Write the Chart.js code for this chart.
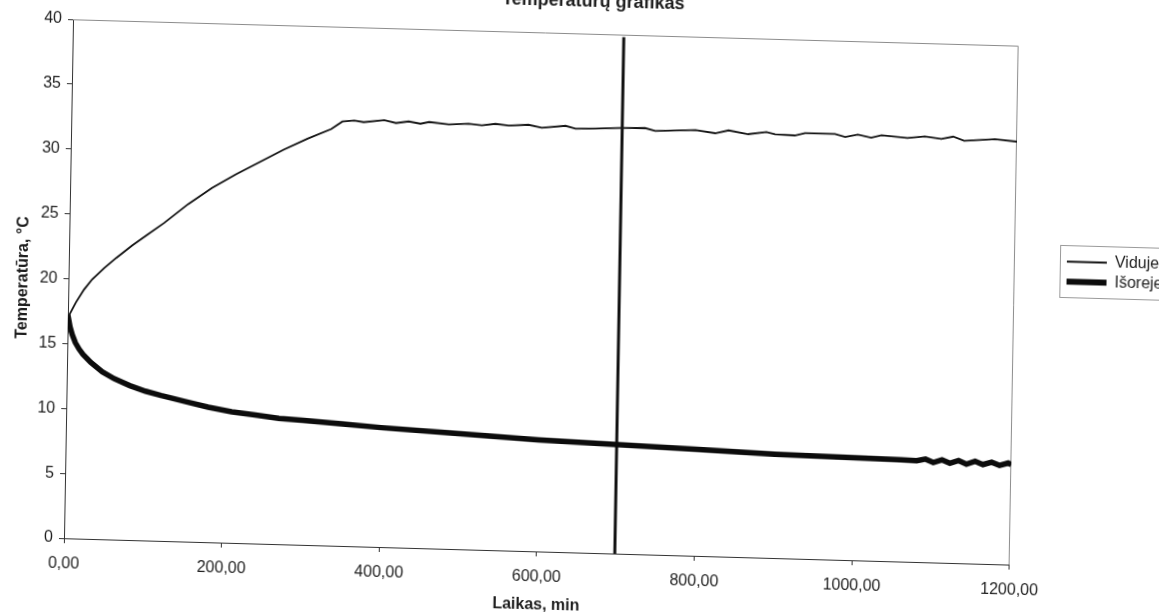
<!DOCTYPE html>
<html>
<head>
<meta charset="utf-8">
<title>Temperatūrų grafikas</title>
<script src="https://cdn.jsdelivr.net/npm/chart.js@4.4.1/dist/chart.umd.min.js"></script>
<style>
  html, body { margin: 0; padding: 0; background: #fff; overflow: hidden; }
  #page { position: relative; width: 1159px; height: 612px; overflow: hidden; }
  /* the scanned page is tilted: bottom edge falls to the right, left edge leans a little */
  #wrap { position: absolute; left: 0; top: -30px; transform: skewY(1.6deg) skewX(-1deg); transform-origin: 64px 568px; }
</style>
</head>
<body>
<div id="page">
  <div id="wrap"><canvas id="chart" width="1168" height="642"></canvas></div>
</div>
<script>
// Viduje (inside) temperature, time in minutes
const insideTime = [0, 5, 10, 20, 30, 45, 60, 80, 100, 120, 150, 180, 210, 240, 270, 300, 330,
  344, 359, 371, 397, 412, 428, 443, 454, 479, 504, 521, 538, 555, 580, 597, 627, 640, 665, 697,
  728, 741, 792, 817, 834, 859, 882, 893, 918, 931, 969, 982, 998, 1015, 1028, 1061, 1083, 1104,
  1119, 1133, 1172, 1200];
const insideTemp = [17.0, 17.6, 18.2, 19.2, 20.0, 20.9, 21.7, 22.7, 23.6, 24.5, 26.0, 27.3, 28.4,
  29.4, 30.4, 31.3, 32.1, 32.7, 32.8, 32.7, 32.9, 32.7, 32.85, 32.7, 32.85, 32.7, 32.8, 32.7, 32.85,
  32.75, 32.85, 32.65, 32.85, 32.65, 32.7, 32.8, 32.85, 32.65, 32.8, 32.6, 32.85, 32.6, 32.8, 32.65,
  32.6, 32.8, 32.8, 32.6, 32.8, 32.6, 32.8, 32.65, 32.8, 32.65, 32.85, 32.55, 32.75, 32.6];

// Išoreje (outside) temperature
const outsideTime = [0, 3, 6, 10, 15, 20, 30, 45, 60, 80, 100, 120, 150, 180, 210, 240, 270, 300,
  350, 400, 500, 600, 700, 800, 900, 1000, 1060, 1080, 1091, 1101, 1112, 1122, 1133, 1143, 1154,
  1164, 1175, 1185, 1196, 1200];
const outsideTemp = [17.2, 16.3, 15.7, 15.1, 14.6, 14.2, 13.6, 12.9, 12.4, 11.9, 11.5, 11.2, 10.8,
  10.4, 10.1, 9.9, 9.7, 9.6, 9.4, 9.2, 8.9, 8.6, 8.4, 8.2, 8.0, 7.9, 7.85, 7.8, 7.95, 7.7, 7.92,
  7.68, 7.9, 7.65, 7.88, 7.65, 7.85, 7.62, 7.82, 7.7];

// thick vertical marker line
const markerTime = [699, 699];
const markerTemp = [0, 39.8];

const seriesLabels = ["Viduje", "Išoreje"];

const toPoints = (xs, ys) => xs.map((x, i) => ({ x: x, y: ys[i] }));
const formatMinutes = v => v.toFixed(2).replace(".", ",");

Chart.defaults.font.family = "'Liberation Sans', Arial, sans-serif";
Chart.defaults.color = "#1e1e1e";

// gray frame on top and right of the plot area
const frame = {
  id: "frame",
  beforeDatasetsDraw(chart) {
    const { ctx, chartArea: a } = chart;
    ctx.save();
    ctx.strokeStyle = "#8c8c8c";
    ctx.lineWidth = 1;
    ctx.beginPath();
    ctx.moveTo(a.left, a.top + 0.5);
    ctx.lineTo(a.right - 0.5, a.top + 0.5);
    ctx.lineTo(a.right - 0.5, a.bottom);
    ctx.stroke();
    ctx.restore();
  }
};

// border round the legend entries
const legendBox = {
  id: "legendBox",
  afterDraw(chart) {
    const boxes = chart.legend.legendHitBoxes;
    if (!boxes || !boxes.length) return;
    const left = Math.min(...boxes.map(b => b.left)) - 7;
    const top = Math.min(...boxes.map(b => b.top)) - 8;
    const right = Math.max(...boxes.map(b => b.left + b.width)) + 10;
    const bottom = Math.max(...boxes.map(b => b.top + b.height)) + 8;
    const ctx = chart.ctx;
    ctx.save();
    ctx.strokeStyle = "#9a9a9a";
    ctx.lineWidth = 1;
    ctx.strokeRect(Math.round(left) + 0.5, Math.round(top) + 0.5, right - left, bottom - top);
    ctx.restore();
  }
};

new Chart(document.getElementById("chart"), {
  type: "scatter",
  data: {
    datasets: [
      {
        label: seriesLabels[0],
        data: toPoints(insideTime, insideTemp),
        showLine: true,
        borderColor: "#141414",
        backgroundColor: "#141414",
        borderWidth: 1.8,
        pointRadius: 0,
        pointHoverRadius: 0,
        pointStyle: "line",
        pointBorderColor: "#141414",
        pointBorderWidth: 2,
        tension: 0
      },
      {
        label: seriesLabels[1],
        data: toPoints(outsideTime, outsideTemp),
        showLine: true,
        borderColor: "#0c0c0c",
        backgroundColor: "#0c0c0c",
        borderWidth: 5.5,
        pointRadius: 0,
        pointHoverRadius: 0,
        pointStyle: "line",
        pointBorderColor: "#0c0c0c",
        pointBorderWidth: 6,
        tension: 0
      },
      {
        label: "marker",
        data: toPoints(markerTime, markerTemp),
        showLine: true,
        borderColor: "#111",
        borderWidth: 3,
        pointRadius: 0,
        pointHoverRadius: 0
      }
    ]
  },
  options: {
    responsive: false,
    devicePixelRatio: 1,
    animation: false,
    layout: { padding: 0 },
    plugins: {
      title: {
        display: true,
        text: "Temperatūrų grafikas",
        color: "#1e1e1e",
        font: { size: 18, weight: "bold" },
        padding: { top: 6, bottom: 21.4 }
      },
      legend: {
        position: "right",
        align: "start",
        fullSize: false,
        title: { display: true, text: "", padding: { top: 188, bottom: 0 } },
        labels: {
          usePointStyle: true,
          pointStyle: "line",
          pointStyleWidth: 40,
          padding: 4,
          font: { size: 16 },
          filter: item => item.datasetIndex < 2
        }
      },
      tooltip: { enabled: false }
    },
    scales: {
      x: {
        type: "linear",
        min: 0,
        max: 1200,
        ticks: { stepSize: 200, callback: formatMinutes, font: { size: 16 }, padding: 11, maxRotation: 0 },
        grid: { drawOnChartArea: false, drawTicks: true, tickLength: 5, color: "#333" },
        border: { color: "#333", width: 1 },
        title: { display: true, text: "Laikas, min", font: { size: 16, weight: "bold" }, padding: { top: 0, bottom: 11 } },
        afterFit(scale) { scale.height = 74; }
      },
      y: {
        min: 0,
        max: 40,
        ticks: { stepSize: 5, font: { size: 16 }, padding: 6 },
        grid: { drawOnChartArea: false, drawTicks: true, tickLength: 5, color: "#333" },
        border: { color: "#333", width: 1 },
        title: { display: true, text: "Temperatūra, °C", font: { size: 16, weight: "bold" }, padding: { top: 9, bottom: 0 } },
        afterFit(scale) { scale.width = 64; }
      },
      // empty axis that only keeps space between the plot and the legend
      gap: {
        type: "linear",
        position: "right",
        display: true,
        ticks: { display: false },
        grid: { display: false },
        border: { display: false },
        afterFit(scale) { scale.width = 48; }
      }
    }
  },
  plugins: [frame, legendBox]
});
</script>
</body>
</html>
